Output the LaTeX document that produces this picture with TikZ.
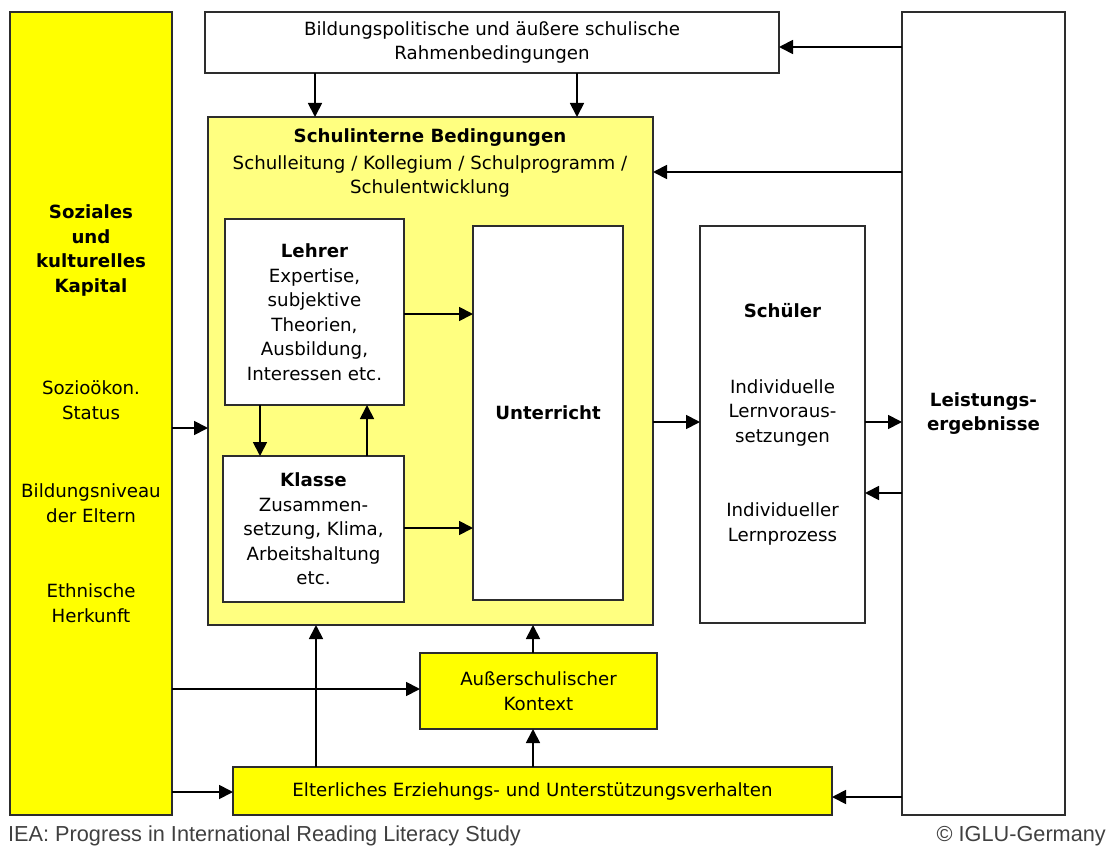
\documentclass[tikz,border=0pt]{standalone}
\usepackage{fontspec}
\setmainfont{DejaVu Sans}
\newfontfamily\footfont{Liberation Sans}
\usepackage{tikz}
\usetikzlibrary{arrows.meta,positioning}
\definecolor{gelb}{RGB}{255,255,0}
\definecolor{hellgelb}{RGB}{255,255,128}
\definecolor{rand}{RGB}{45,45,45}
\tikzset{
  box/.style={draw=rand, line width=2pt, inner sep=0pt, outer sep=0pt, align=center, text=black},
  pfeil/.style={->, line width=1.8pt, black},
  >={Triangle[length=14pt,width=14pt]}
}

\begin{document}
\begin{tikzpicture}[x=1pt,y=-1pt,font=\fontsize{18.2}{24.5}\selectfont]
  \useasboundingbox (0,0) rectangle (1114,848);
  % Kapital und Leistung
  \node[box,fill=gelb,minimum width=162pt,minimum height=803pt] (kapital) at (91,413.5)
    {\textbf{Soziales}\\\textbf{und}\\\textbf{kulturelles}\\\textbf{Kapital}\\[78pt]
     Sozioökon.\\Status\\[54pt] Bildungsniveau\\der Eltern\\[51pt] Ethnische\\Herkunft};
  \node[box,fill=white,minimum width=163pt,minimum height=803pt] (leist) at (983.5,413.5)
    {\textbf{Leistungs-}\\\textbf{ergebnisse}};
  % Rahmen und Schule
  \node[box,fill=white,minimum width=574pt,minimum height=61pt] (rahmen) at (492,42.5)
    {Bildungspolitische und äußere schulische\\Rahmenbedingungen};
  \node[box,fill=hellgelb,minimum width=445pt,minimum height=508pt] (schule) at (430.5,371) {};
  \node[align=center,inner sep=0pt,text=black] (schuletext) at (430,163)
    {\textbf{Schulinterne Bedingungen}\\[2pt] Schulleitung / Kollegium / Schulprogramm /\\Schulentwicklung};
  \node[box,fill=white,minimum width=179pt,minimum height=186pt] (lehrer) at (314.5,312)
    {\textbf{Lehrer}\\Expertise,\\subjektive\\Theorien,\\Ausbildung,\\Interessen etc.};
  \node[box,fill=white,minimum width=181pt,minimum height=146pt] (klasse) at (313.5,529)
    {\textbf{Klasse}\\Zusammen-\\setzung, Klima,\\Arbeitshaltung\\etc.};
  \node[box,fill=white,minimum width=150pt,minimum height=374pt] (unterricht) at (548,413)
    {\textbf{Unterricht}};
  \node[box,fill=white,minimum width=165pt,minimum height=397pt] (schueler) at (782.5,424.5)
    {\textbf{Schüler}\\[51pt] Individuelle\\Lernvoraus-\\setzungen\\[50pt] Individueller\\Lernprozess};
  % Kontext und Eltern
  \node[box,fill=gelb,minimum width=237pt,minimum height=76pt] (kontext) at (538.5,691)
    {Außerschulischer\\Kontext};
  \node[box,fill=gelb,minimum width=599pt,minimum height=48pt] (eltern) at (532.5,791)
    {Elterliches Erziehungs- und Unterstützungsverhalten};
  % Pfeile
  \draw[pfeil] (rahmen.south -| 315,0) -- (schule.north -| 315,0);
  \draw[pfeil] (rahmen.south -| 577,0) -- (schule.north -| 577,0);
  \draw[pfeil] (leist.west |- 0,47) -- (rahmen.east |- 0,47);
  \draw[pfeil] (leist.west |- 0,172) -- (schule.east |- 0,172);
  \draw[pfeil] (kapital.east |- 0,428) -- (schule.west |- 0,428);
  \draw[pfeil] (lehrer.east |- 0,314) -- (unterricht.west |- 0,314);
  \draw[pfeil] (klasse.east |- 0,528) -- (unterricht.west |- 0,528);
  \draw[pfeil] (lehrer.south -| 260,0) -- (klasse.north -| 260,0);
  \draw[pfeil] (klasse.north -| 367,0) -- (lehrer.south -| 367,0);
  \draw[pfeil] (schule.east |- 0,422) -- (schueler.west |- 0,422);
  \draw[pfeil] (schueler.east |- 0,422) -- (leist.west |- 0,422);
  \draw[pfeil] (leist.west |- 0,493) -- (schueler.east |- 0,493);
  \draw[pfeil] (kapital.east |- 0,689) -- (kontext.west |- 0,689);
  \draw[pfeil] (kapital.east |- 0,792) -- (eltern.west |- 0,792);
  \draw[pfeil] (leist.west |- 0,797) -- (eltern.east |- 0,797);
  \draw[pfeil] (eltern.north -| 316,0) -- (schule.south -| 316,0);
  \draw[pfeil] (eltern.north -| 533,0) -- (kontext.south -| 533,0);
  \draw[pfeil] (kontext.north -| 533,0) -- (schule.south -| 533,0);
  % Fusszeile
  \node[anchor=west,inner sep=0pt,text=black!75,font=\footfont\fontsize{21.7}{24}\selectfont] (iea) at (8,836)
    {IEA: Progress in International Reading Literacy Study};
  \node[anchor=east,inner sep=0pt,text=black!75,font=\footfont\fontsize{21.7}{24}\selectfont] (iglu) at (1106,836)
    {© IGLU-Germany};
\end{tikzpicture}
\end{document}
